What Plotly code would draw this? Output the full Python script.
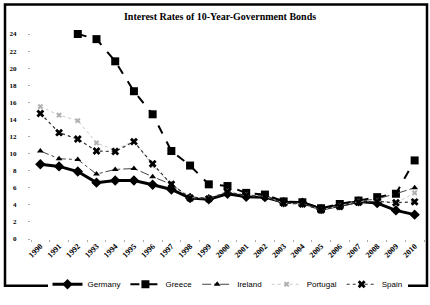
import plotly.graph_objects as go

years = [str(y) for y in range(1990, 2011)]
germany = [8.75, 8.5, 7.9, 6.6, 6.85, 6.85, 6.35, 5.8, 4.8, 4.65, 5.3, 4.95, 4.9, 4.3, 4.25, 3.5, 3.95, 4.4, 4.2, 3.35, 2.85]
greece = [None, None, 24.0, 23.4, 20.8, 17.3, 14.6, 10.3, 8.6, 6.4, 6.2, 5.4, 5.2, 4.4, 4.3, 3.6, 4.1, 4.5, 4.9, 5.3, 9.2]
ireland = [10.3, 9.4, 9.3, 7.6, 8.15, 8.25, 7.3, 6.4, 4.9, 4.7, 5.5, 5.0, 5.0, 4.2, 4.2, 3.4, 3.9, 4.4, 4.7, 5.3, 6.0]
portugal = [15.5, 14.5, 13.85, 11.25, 10.4, 11.5, 8.6, 6.4, 4.9, 4.8, 5.6, 5.2, 5.0, 4.2, 4.1, 3.4, 3.9, 4.4, 4.5, 4.2, 5.4]
spain = [14.7, 12.45, 11.7, 10.3, 10.25, 11.4, 8.8, 6.4, 4.8, 4.7, 5.5, 5.1, 5.0, 4.2, 4.1, 3.4, 3.8, 4.3, 4.4, 4.25, 4.35]
y_ticks = list(range(0, 25, 2))

fig = go.Figure()
fig.add_trace(go.Scatter(x=years, y=germany, name="Germany", mode="lines+markers",
                         line=dict(color="black", width=3), cliponaxis=False,
                         marker=dict(symbol="diamond", size=8, color="black")))
fig.add_trace(go.Scatter(x=years, y=greece, name="Greece", mode="lines+markers",
                         line=dict(color="black", width=2, dash="dash"), cliponaxis=False,
                         marker=dict(symbol="square", size=8, color="black")))
fig.add_trace(go.Scatter(x=years, y=ireland, name="Ireland", mode="lines+markers",
                         line=dict(color="#444444", width=1, dash="dashdot"), cliponaxis=False,
                         marker=dict(symbol="triangle-up", size=6, color="black")))
fig.add_trace(go.Scatter(x=years, y=portugal, name="Portugal", mode="lines+markers",
                         line=dict(color="#c8c8c8", width=1, dash="dot"), cliponaxis=False,
                         marker=dict(symbol="x", size=5, color="#b0b0b0")))
fig.add_trace(go.Scatter(x=years, y=spain, name="Spain", mode="lines+markers",
                         line=dict(color="#333333", width=1.2, dash="dot"), cliponaxis=False,
                         marker=dict(symbol="x", size=7, color="black")))

fig.update_layout(
    width=430, height=305,
    margin=dict(l=31, r=6, t=34, b=56),
    paper_bgcolor="white", plot_bgcolor="white",
    title=dict(text="Interest Rates of 10-Year-Government Bonds",
               x=0.481, xanchor="center", xref="paper", y=1 - 16 / 305, yanchor="middle",
               font=dict(family="Liberation Serif", size=10, color="black", weight="bold")),
    showlegend=True,
    legend=dict(orientation="h", x=0.5, xanchor="center", y=-0.15, yanchor="top",
                font=dict(family="Liberation Sans", size=8, color="black"),
                itemwidth=30, tracegroupgap=0),
    xaxis=dict(type="category", range=[-0.5, 20.5], tickangle=-45,
               tickfont=dict(family="Liberation Serif", size=8, color="black", weight="bold"),
               showgrid=False, zeroline=False, showline=False,
               ticks="outside", ticklen=2, tickcolor="#aaaaaa", tickson="boundaries"),
    yaxis=dict(range=[0, 24], tickvals=y_ticks,
               tickfont=dict(family="Liberation Serif", size=7, color="black", weight="bold"),
               showgrid=False, zeroline=False, showline=False,
               ticks="outside", ticklen=2, tickcolor="#aaaaaa", ticklabelstandoff=10),
)

# outer frame of the chart
pw, ph = 393, 215
def px_x(v):
    return (v - 31) / pw
def px_y(v):
    return (249 - v) / ph
fig.add_shape(type="rect", xref="paper", yref="paper",
              x0=px_x(5), x1=px_x(427), y0=px_y(298), y1=px_y(3),
              line=dict(color="black", width=2.5))

fig.write_html("out.html", config={"displayModeBar": False},
               post_script="document.body.style.margin='0';document.body.style.overflow='hidden';")
